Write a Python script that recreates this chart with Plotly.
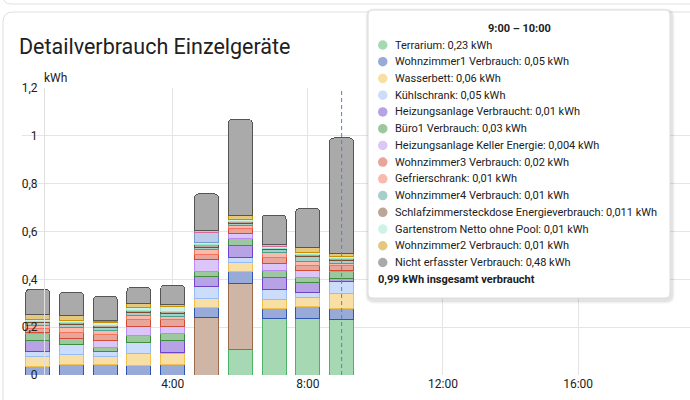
import plotly.graph_objects as go

W, H = 690, 400

# ---------------- data ----------------
hours = [0, 1, 2, 3, 4, 5, 6, 7, 8, 9]
x_tick_vals = [4, 8, 12, 16]
x_tick_text = ["4:00", "8:00", "12:00", "16:00"]
y_tick_vals = [0, 0.2, 0.4, 0.6, 0.8, 1.0, 1.2]
y_tick_text = ["0", "0,2", "0,4", "0,6", "0,8", "1", "1,2"]

terrarium      = [0, 0, 0, 0, 0, 0, 0.107, 0.237, 0.237, 0.23]
waschmaschine  = [0, 0, 0, 0, 0, 0.241, 0.276, 0, 0, 0]
wohnzimmer1    = [0.035, 0.046, 0.046, 0.038, 0.046, 0.042, 0.049, 0.039, 0.049, 0.05]
wasserbett     = [0.042, 0.038, 0.033, 0.05, 0.042, 0.037, 0.039, 0.041, 0.039, 0.06]
kuehlschrank   = [0.021, 0.042, 0.018, 0.048, 0.008, 0.049, 0.021, 0.042, 0.019, 0.052]
heizung        = [0.046, 0, 0, 0, 0.049, 0.042, 0.048, 0.05, 0.042, 0.01]
buero1         = [0.028, 0.028, 0.018, 0.031, 0.028, 0.021, 0.029, 0.028, 0.022, 0.03]
keller         = [0.004, 0, 0.031, 0.035, 0.029, 0.049, 0.024, 0.031, 0.028, 0.004]
wohnzimmer3    = [0.02, 0.025, 0.022, 0.028, 0.028, 0.024, 0.02, 0.025, 0.022, 0.02]
gefrier        = [0.012, 0.019, 0.017, 0.02, 0.016, 0.02, 0.012, 0.02, 0.016, 0.012]
wohnzimmer4    = [0.01, 0.012, 0.014, 0.01, 0.013, 0.01, 0.01, 0.01, 0.021, 0.01]
schlafzimmer   = [0.004, 0.008, 0.008, 0.008, 0.008, 0.01, 0.007, 0.005, 0.01, 0.011]
garten         = [0.01, 0.01, 0.012, 0.016, 0.02, 0.008, 0.007, 0.008, 0.007, 0.008]
wohnzimmer2    = [0.019, 0.021, 0.003, 0.014, 0.008, 0, 0.018, 0, 0.021, 0.01]
spuelmaschine  = [0, 0, 0, 0, 0, 0.042, 0, 0, 0, 0]
trockner       = [0, 0, 0.005, 0, 0, 0.009, 0, 0.008, 0, 0]
nicht_erfasst  = [0.107, 0.098, 0.103, 0.069, 0.081, 0.153, 0.402, 0.125, 0.164, 0.484]

series = [
    ("Terrarium", terrarium, "#4db167"),
    ("Waschmaschine", waschmaschine, "#9c6b4e"),
    ("Wohnzimmer1 Verbrauch", wohnzimmer1, "#3056b0"),
    ("Wasserbett", wasserbett, "#f0bf4c"),
    ("Kühlschrank", kuehlschrank, "#97bbf5"),
    ("Heizungsanlage Verbraucht", heizung, "#6e44c8"),
    ("Büro1 Verbrauch", buero1, "#3b8f3d"),
    ("Heizungsanlage Keller Energie", keller, "#b98bf1"),
    ("Wohnzimmer3 Verbrauch", wohnzimmer3, "#d14b35"),
    ("Gefrierschrank", gefrier, "#f3735b"),
    ("Wohnzimmer4 Verbrauch", wohnzimmer4, "#49a28f"),
    ("Schlafzimmersteckdose Energieverbrauch", schlafzimmer, "#7a4c31"),
    ("Gartenstrom Netto ohne Pool", garten, "#9de6cb"),
    ("Wohnzimmer2 Verbrauch", wohnzimmer2, "#c99000"),
    ("Geschirrspüler", spuelmaschine, "#7599d1"),
    ("Trockner", trockner, "#d96895"),
    ("Nicht erfasster Verbrauch", nicht_erfasst, "#555555"),
]

tooltip_title = "9:00 – 10:00"
tooltip_items = [
    ("Terrarium", "0,23 kWh"),
    ("Wohnzimmer1 Verbrauch", "0,05 kWh"),
    ("Wasserbett", "0,06 kWh"),
    ("Kühlschrank", "0,05 kWh"),
    ("Heizungsanlage Verbraucht", "0,01 kWh"),
    ("Büro1 Verbrauch", "0,03 kWh"),
    ("Heizungsanlage Keller Energie", "0,004 kWh"),
    ("Wohnzimmer3 Verbrauch", "0,02 kWh"),
    ("Gefrierschrank", "0,01 kWh"),
    ("Wohnzimmer4 Verbrauch", "0,01 kWh"),
    ("Schlafzimmersteckdose Energieverbrauch", "0,011 kWh"),
    ("Gartenstrom Netto ohne Pool", "0,01 kWh"),
    ("Wohnzimmer2 Verbrauch", "0,01 kWh"),
    ("Nicht erfasster Verbrauch", "0,48 kWh"),
]
tooltip_total = "0,99 kWh insgesamt verbraucht"
hover_hour = 9

# ---------------- helpers ----------------
def mix(hexcol, a=0.5):
    h = hexcol.lstrip("#")
    r, g, b = int(h[0:2], 16), int(h[2:4], 16), int(h[4:6], 16)
    r = round(r * a + 255 * (1 - a)); g = round(g * a + 255 * (1 - a)); b = round(b * a + 255 * (1 - a))
    return f"rgb({r},{g},{b})"

def px(x):
    return x / W

def py(y):
    return 1 - y / H

FONT = "Roboto"
TXT = "#212121"

# layout geometry (pixels)
x0_px, pph = 37.6, 33.78      # pixel of hour 0, pixels per hour
dom_left = 22
y_bottom, y_top = 375, 88

fig = go.Figure()
colors = {}
for name, vals, col in series:
    colors[name] = col
    fig.add_trace(go.Bar(
        x=hours, y=[v if v else None for v in vals], name=name,
        width=0.71,
        marker=dict(color=mix(col, 0.5), line=dict(color=col, width=1)),
        hoverinfo="skip",
    ))

shapes = []
# card outlines
shapes.append(dict(type="path", xref="paper", yref="paper",
                   path=f"M {px(3)},{py(-20)} L {px(3)},{py(-4)} Q {px(3)},{py(4)} {px(11)},{py(4)} L {px(700)},{py(4)}",
                   line=dict(color="#e0e0e0", width=1), layer="below"))
shapes.append(dict(type="path", xref="paper", yref="paper",
                   path=f"M {px(3)},{py(420)} L {px(3)},{py(22)} Q {px(3)},{py(12)} {px(13)},{py(12)} L {px(700)},{py(12)}",
                   line=dict(color="#e0e0e0", width=1), layer="below"))
# hover pointer line
shapes.append(dict(type="line", xref="x", yref="paper", x0=hover_hour, x1=hover_hour,
                   y0=py(y_bottom), y1=py(y_top),
                   line=dict(color="#3d8be0", width=1, dash="4px,3px"), layer="above"))

# tooltip box
bx0, by0, bx1, by1, rr = 368, 10, 670, 298, 5
def rrect(x0, y0, x1, y1, r):
    return (f"M {px(x0+r)},{py(y0)} L {px(x1-r)},{py(y0)} Q {px(x1)},{py(y0)} {px(x1)},{py(y0+r)} "
            f"L {px(x1)},{py(y1-r)} Q {px(x1)},{py(y1)} {px(x1-r)},{py(y1)} "
            f"L {px(x0+r)},{py(y1)} Q {px(x0)},{py(y1)} {px(x0)},{py(y1-r)} "
            f"L {px(x0)},{py(y0+r)} Q {px(x0)},{py(y0)} {px(x0+r)},{py(y0)} Z")
for i, op in enumerate([0.025, 0.035, 0.05]):
    g = 4 - i
    shapes.append(dict(type="path", xref="paper", yref="paper",
                       path=rrect(bx0 - g + 1, by0 - g + 2, bx1 + g + 1, by1 + g + 2, rr + g),
                       fillcolor=f"rgba(0,0,0,{op})", line=dict(width=0), layer="above"))
shapes.append(dict(type="path", xref="paper", yref="paper", path=rrect(bx0, by0, bx1, by1, rr),
                   fillcolor="white", line=dict(color="#dcdcdc", width=1), layer="above"))

annotations = []
annotations.append(dict(text="Detailverbrauch Einzelgeräte", x=px(17), y=py(47), xref="paper", yref="paper",
                        xanchor="left", yanchor="middle", showarrow=False,
                        font=dict(family=FONT, size=21.5, color=TXT)))
annotations.append(dict(text="kWh", x=px(42), y=py(78), xref="paper", yref="paper",
                        xanchor="left", yanchor="middle", showarrow=False,
                        font=dict(family=FONT, size=12, color=TXT)))

# tooltip content
TT = 11
annotations.append(dict(text=f"<b>{tooltip_title}</b>", x=px((bx0 + bx1) / 2), y=py(28), xref="paper", yref="paper",
                        xanchor="center", yanchor="middle", showarrow=False,
                        font=dict(family=FONT, size=TT, color=TXT)))
row0, drow = 45, 16.73
for i, (name, val) in enumerate(tooltip_items):
    yy = row0 + i * drow
    c = mix(colors[name], 0.5)
    shapes.append(dict(type="circle", xref="paper", yref="paper",
                       x0=px(378), x1=px(387.5), y0=py(yy - 4.75), y1=py(yy + 4.75),
                       fillcolor=c, line=dict(width=0), layer="above"))
    annotations.append(dict(text=f"{name}: {val}", x=px(393), y=py(yy), xref="paper", yref="paper",
                            xanchor="left", yanchor="middle", showarrow=False,
                            font=dict(family=FONT, size=TT, color=TXT)))
annotations.append(dict(text=f"<b>{tooltip_total}</b>", x=px(376), y=py(row0 + len(tooltip_items) * drow),
                        xref="paper", yref="paper", xanchor="left", yanchor="middle", showarrow=False,
                        font=dict(family=FONT, size=TT, color=TXT)))

fig.update_layout(
    width=W, height=H,
    margin=dict(l=0, r=0, t=0, b=0, pad=0, autoexpand=False),
    paper_bgcolor="white", plot_bgcolor="white",
    barmode="stack", barcornerradius=4,
    showlegend=False,
    font=dict(family=FONT, size=12, color=TXT),
    xaxis=dict(domain=[px(dom_left), 1],
               range=[(dom_left - x0_px) / pph, (W - x0_px) / pph],
               tickvals=x_tick_vals, ticktext=x_tick_text,
               showgrid=True, gridcolor="#e4e4e4", gridwidth=1,
               zeroline=False, showline=False, ticks="", automargin=False,
               tickfont=dict(family=FONT, size=12, color=TXT)),
    yaxis=dict(domain=[py(y_bottom), py(y_top)], range=[0, 1.2],
               anchor="free", position=px(44),
               tickvals=y_tick_vals, ticktext=y_tick_text,
               showgrid=True, gridcolor="#e4e4e4", gridwidth=1,
               zeroline=False, showline=True, linecolor="#e0e0e0", linewidth=1,
               ticks="", ticklabelstandoff=4, automargin=False,
               tickfont=dict(family=FONT, size=12, color=TXT)),
    shapes=shapes, annotations=annotations,
)

fig.write_html("out.html")
